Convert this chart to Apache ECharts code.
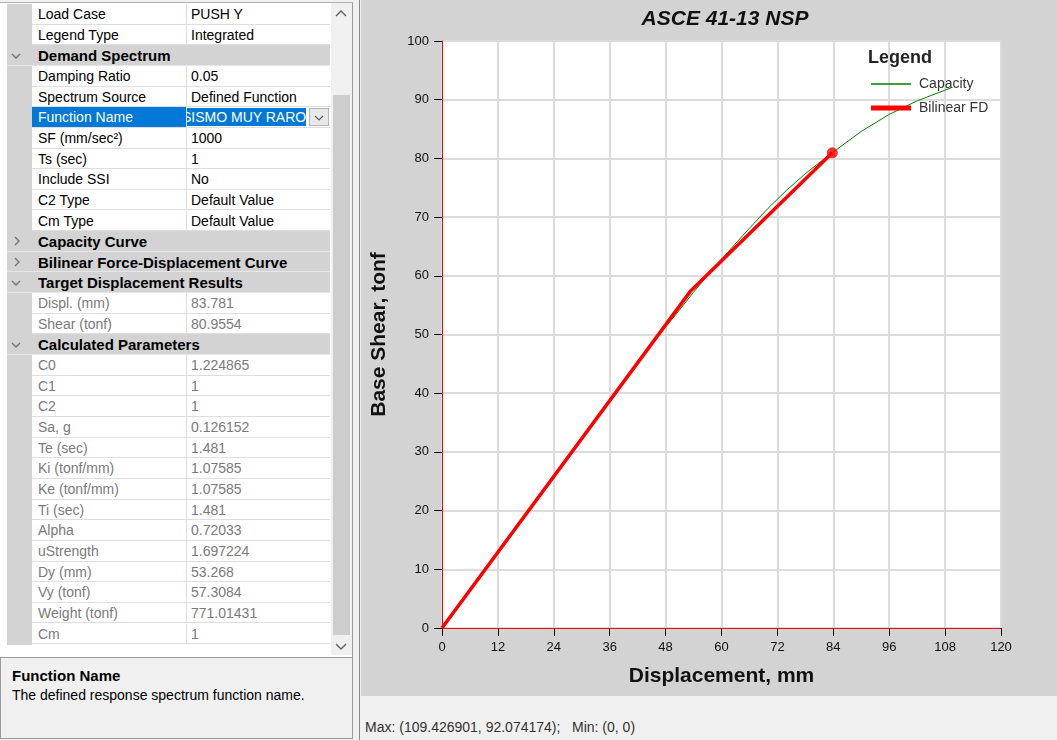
<!DOCTYPE html>
<html>
<head>
<meta charset="utf-8">
<script src="https://cdn.jsdelivr.net/npm/echarts@6/dist/echarts.min.js"></script>
<style>
html,body{margin:0;padding:0;width:1057px;height:740px;overflow:hidden;background:#f0f0f0;font-family:'Liberation Sans',Arial,sans-serif;}
.abs{position:absolute;box-sizing:border-box;}
#gridBox{left:0;top:2px;width:353px;height:655px;background:#fff;border-right:1px solid #9a9a9a;border-top:1px solid #b0b0b0;}
#gutter{left:7px;top:4px;width:25px;height:641px;background:#d3d3d3;}
.cell{white-space:nowrap;overflow:hidden;font-size:14px;color:#000;border-bottom:1px solid #dedede;background:#fff;}
.name{left:32px;width:155px;padding-left:6px;border-right:1px solid #dedede;}
.val{left:187px;width:143px;padding-left:4px;}
.ro{color:#7a7a7a;}
.hdr{left:7px;width:323px;background:#d3d3d3;font-weight:bold;font-size:15px;padding-left:31px;white-space:nowrap;border-bottom:1px solid #e6e6e6;color:#000;}
#scroll{left:331px;top:3px;width:21px;height:652px;background:#f0f0f0;}
#thumb{left:333px;top:95px;width:17px;height:540px;background:#cdcdcd;}
#desc{left:0;top:657px;width:353px;height:82px;background:#f0f0f0;border:1px solid #9a9a9a;}
#chartBg{left:359px;top:0;width:698px;height:740px;border-left:1px solid #8a8a8a;background:#f0f0f0;}
#chart{position:absolute;left:361px;top:0;width:696px;height:696px;}
#status{left:365px;top:719px;font-size:14px;color:#333;white-space:pre;}
</style>
</head>
<body>
<div class="abs" id="gridBox"></div>
<div class="abs" id="gutter"></div>
<div id="rows"></div>
<div class="abs" id="scroll"></div>
<div class="abs" id="thumb"></div>
<svg class="abs" style="left:335px;top:10px" width="12" height="8"><polyline points="1,6 6,1 11,6" fill="none" stroke="#606060" stroke-width="1.4"/></svg>
<svg class="abs" style="left:335px;top:643px" width="12" height="8"><polyline points="1,1 6,6 11,1" fill="none" stroke="#606060" stroke-width="1.4"/></svg>
<div class="abs" id="desc">
  <div class="abs" style="left:11px;top:9px;font-weight:bold;font-size:15px;color:#000;">Function Name</div>
  <div class="abs" style="left:11px;top:29px;font-size:14px;color:#000;white-space:nowrap;">The defined response spectrum function name.</div>
</div>
<div class="abs" id="chartBg"></div>
<div id="chart"></div>
<div class="abs" id="status"></div>
<script>
// ---------------- property grid contents ----------------
const gridRows = [
  ['row', 'Load Case', 'PUSH Y'],
  ['row', 'Legend Type', 'Integrated'],
  ['open', 'Demand Spectrum'],
  ['row', 'Damping Ratio', '0.05'],
  ['row', 'Spectrum Source', 'Defined Function'],
  ['sel', 'Function Name', 'SISMO MUY RARO'],
  ['row', 'SF (mm/sec\u00B2)', '1000'],
  ['row', 'Ts (sec)', '1'],
  ['row', 'Include SSI', 'No'],
  ['row', 'C2 Type', 'Default Value'],
  ['row', 'Cm Type', 'Default Value'],
  ['closed', 'Capacity Curve'],
  ['closed', 'Bilinear Force-Displacement Curve'],
  ['open', 'Target Displacement Results'],
  ['ro', 'Displ. (mm)', '83.781'],
  ['ro', 'Shear (tonf)', '80.9554'],
  ['open', 'Calculated Parameters'],
  ['ro', 'C0', '1.224865'],
  ['ro', 'C1', '1'],
  ['ro', 'C2', '1'],
  ['ro', 'Sa, g', '0.126152'],
  ['ro', 'Te (sec)', '1.481'],
  ['ro', 'Ki (tonf/mm)', '1.07585'],
  ['ro', 'Ke (tonf/mm)', '1.07585'],
  ['ro', 'Ti (sec)', '1.481'],
  ['ro', 'Alpha', '0.72033'],
  ['ro', 'uStrength', '1.697224'],
  ['ro', 'Dy (mm)', '53.268'],
  ['ro', 'Vy (tonf)', '57.3084'],
  ['ro', 'Weight (tonf)', '771.01431'],
  ['ro', 'Cm', '1']
];

// ---------------- chart data ----------------
const capDisp  = [0, 10, 20, 30, 40, 46, 50, 54, 58, 62, 66, 70, 74, 78, 82, 83.781, 90, 96, 102, 109.426901];
const capShear = [0, 10.8, 21.5, 32.3, 43.0, 49.4, 53.2, 57.2, 61.0, 64.6, 68.1, 71.5, 74.6, 77.4, 79.9, 80.9554, 84.6, 87.5, 89.8, 92.074174];
const bilDisp  = [0, 53.268, 83.781];
const bilShear = [0, 57.3084, 80.9554];
const targetDisp  = [83.781];
const targetShear = [80.9554];
const xTicks = {min: 0, max: 120, step: 12};
const yTicks = {min: 0, max: 100, step: 10};

// ---------------- build grid ----------------
const ROW_TOP = 4, ROW_H = 20.65;
const rowsEl = document.getElementById('rows');
function add(html){ rowsEl.insertAdjacentHTML('beforeend', html); }
gridRows.forEach((r, i) => {
  const top = ROW_TOP + i * ROW_H;
  const st = `top:${top}px;height:${ROW_H}px;line-height:${ROW_H + 1}px;`;
  if (r[0] === 'open' || r[0] === 'closed') {
    add(`<div class="abs hdr" style="${st}">${r[1]}</div>`);
    const pts = r[0] === 'open' ? '1,1 5,5 9,1' : '2,1 6,5 2,9';
    const w = r[0] === 'open' ? 10 : 8, h = r[0] === 'open' ? 6 : 10;
    add(`<svg class="abs" style="left:${r[0]==='open'?11:13}px;top:${top + ROW_H/2 - h/2}px" width="${w}" height="${h}"><polyline points="${pts}" fill="none" stroke="#707070" stroke-width="1.3"/></svg>`);
  } else if (r[0] === 'sel') {
    add(`<div class="abs cell name" style="${st}background:#0078d7;color:#fff;">${r[1]}</div>`);
    add(`<div class="abs cell val" style="${st}"></div>`);
    add(`<div class="abs" style="left:187px;top:${top+1}px;width:120px;height:${ROW_H-3}px;overflow:hidden;"><span style="position:absolute;left:-5px;top:0;line-height:${ROW_H-2}px;background:#0078d7;color:#fff;font-size:14px;white-space:nowrap;">${r[2]}</span></div>`);
    add(`<div class="abs" style="left:309px;top:${top+1}px;width:20px;height:${ROW_H-3}px;background:#e8e8e8;border:1px solid #b4b4b4;"></div>`);
    add(`<svg class="abs" style="left:314px;top:${top+8}px" width="10" height="6"><polyline points="1,1 5,5 9,1" fill="none" stroke="#606060" stroke-width="1.2"/></svg>`);
  } else {
    const cls = r[0] === 'ro' ? ' ro' : '';
    add(`<div class="abs cell name${cls}" style="${st}">${r[1]}</div>`);
    add(`<div class="abs cell val${cls}" style="${st}">${r[2]}</div>`);
  }
});

// status bar text from the capacity curve extremes
document.getElementById('status').textContent =
  'Max: (' + Math.max(...capDisp) + ', ' + Math.max(...capShear) + ');   Min: (' +
  Math.min(...capDisp) + ', ' + Math.min(...capShear) + ')';

// ---------------- chart ----------------
const zip = (a, b) => a.map((v, i) => [v, b[i]]);
const FONT = "'Liberation Sans',Arial,sans-serif";
const chart = echarts.init(document.getElementById('chart'), null, {renderer: 'canvas'});
chart.setOption({
  animation: false,
  backgroundColor: '#d3d3d3',
  title: {
    text: 'ASCE 41-13 NSP', left: 359, top: 4, textAlign: 'center',
    textStyle: {fontSize: 21, fontWeight: 'bold', fontStyle: 'italic', color: '#111', fontFamily: FONT}
  },
  graphic: [{
    type: 'text', left: 507, top: 49,
    style: {text: 'Legend', fontSize: 18, fontWeight: 'bold', fill: '#222', fontFamily: FONT}
  }],
  legend: [
    {data: ['Capacity'], left: 505, top: 72, orient: 'vertical', icon: 'rect', itemWidth: 40, itemHeight: 1.5,
     textStyle: {fontSize: 14, color: '#333', fontFamily: FONT, padding: [0, 0, 0, 3]}},
    {data: ['Bilinear FD'], left: 505, top: 96, orient: 'vertical', icon: 'rect', itemWidth: 40, itemHeight: 5,
     textStyle: {fontSize: 14, color: '#333', fontFamily: FONT, padding: [0, 0, 0, 3]}}
  ],
  grid: {left: 80, right: 56, top: 41, bottom: 68, show: true, backgroundColor: '#ffffff', borderWidth: 0, containLabel: false},
  xAxis: {
    type: 'value', min: xTicks.min, max: xTicks.max, interval: xTicks.step,
    name: 'Displacement, mm', nameLocation: 'middle', nameGap: 38,
    nameTextStyle: {fontSize: 21, fontWeight: 'bold', color: '#111', fontFamily: FONT},
    axisLine: {show: true, onZero: false, lineStyle: {color: '#ff0000', width: 1}},
    axisTick: {show: true, length: 8, lineStyle: {color: '#000', width: 1}},
    axisLabel: {margin: 13, fontSize: 13, color: '#111', fontFamily: FONT},
    splitLine: {show: true, lineStyle: {color: '#dcdcdc', width: 2}}
  },
  yAxis: {
    type: 'value', min: yTicks.min, max: yTicks.max, interval: yTicks.step,
    name: 'Base Shear, tonf', nameLocation: 'middle', nameGap: 52,
    nameTextStyle: {fontSize: 21, fontWeight: 'bold', color: '#111', fontFamily: FONT},
    axisLine: {show: true, onZero: false, lineStyle: {color: '#ff0000', width: 1}},
    axisTick: {show: true, length: 8, lineStyle: {color: '#000', width: 1}},
    axisLabel: {margin: 13, fontSize: 13, color: '#111', fontFamily: FONT},
    splitLine: {show: true, lineStyle: {color: '#dcdcdc', width: 2}}
  },
  series: [
    {name: 'Capacity', type: 'line', data: zip(capDisp, capShear), showSymbol: false, symbol: 'none',
     lineStyle: {color: '#008000', width: 1}, itemStyle: {color: '#008000'}, z: 2},
    {name: 'Bilinear FD', type: 'line', data: zip(bilDisp, bilShear), showSymbol: false, symbol: 'none',
     lineStyle: {color: '#ff0000', width: 3.5}, itemStyle: {color: '#ff0000'}, z: 3},
    {name: 'Target', type: 'scatter', data: zip(targetDisp, targetShear), symbol: 'circle', symbolSize: 11,
     itemStyle: {color: '#ff0000'}, z: 4}
  ]
});
</script>
</body>
</html>
